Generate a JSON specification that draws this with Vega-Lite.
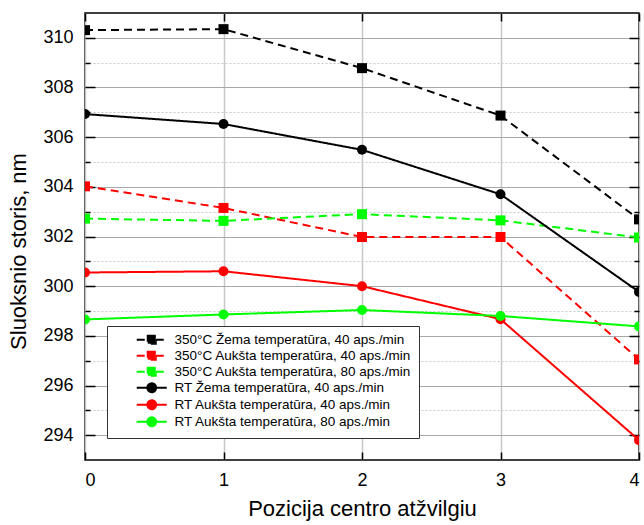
{
  "$schema": "https://vega.github.io/schema/vega-lite/v6.json",
  "width": 554,
  "height": 447,
  "autosize": "none",
  "padding": {"left": 85, "top": 13, "right": 5, "bottom": 65},
  "background": "white",
  "config": {
    "font": "Liberation Sans",
    "view": {"stroke": "#000000", "strokeWidth": 1.5},
    "axis": {"domain": false, "labelColor": "#000", "titleColor": "#000", "tickColor": "#000", "titleFontWeight": "normal", "labelFont": "Liberation Sans", "titleFont": "Liberation Sans"}
  },
  "data": {"values": [
    {"series": "350°C Žema temperatūra, 40 aps./min", "x": 0, "y": 310.31},
    {"series": "350°C Žema temperatūra, 40 aps./min", "x": 1, "y": 310.35},
    {"series": "350°C Žema temperatūra, 40 aps./min", "x": 2, "y": 308.78},
    {"series": "350°C Žema temperatūra, 40 aps./min", "x": 3, "y": 306.87},
    {"series": "350°C Žema temperatūra, 40 aps./min", "x": 4, "y": 302.69},
    {"series": "350°C Aukšta temperatūra, 40 aps./min", "x": 0, "y": 304.02},
    {"series": "350°C Aukšta temperatūra, 40 aps./min", "x": 1, "y": 303.15},
    {"series": "350°C Aukšta temperatūra, 40 aps./min", "x": 2, "y": 301.98},
    {"series": "350°C Aukšta temperatūra, 40 aps./min", "x": 3, "y": 301.98},
    {"series": "350°C Aukšta temperatūra, 40 aps./min", "x": 4, "y": 297.05},
    {"series": "350°C Aukšta temperatūra, 80 aps./min", "x": 0, "y": 302.72},
    {"series": "350°C Aukšta temperatūra, 80 aps./min", "x": 1, "y": 302.63},
    {"series": "350°C Aukšta temperatūra, 80 aps./min", "x": 2, "y": 302.9},
    {"series": "350°C Aukšta temperatūra, 80 aps./min", "x": 3, "y": 302.65},
    {"series": "350°C Aukšta temperatūra, 80 aps./min", "x": 4, "y": 301.96},
    {"series": "RT Žema temperatūra, 40 aps./min", "x": 0, "y": 306.93},
    {"series": "RT Žema temperatūra, 40 aps./min", "x": 1, "y": 306.53},
    {"series": "RT Žema temperatūra, 40 aps./min", "x": 2, "y": 305.49},
    {"series": "RT Žema temperatūra, 40 aps./min", "x": 3, "y": 303.7},
    {"series": "RT Žema temperatūra, 40 aps./min", "x": 4, "y": 299.77},
    {"series": "RT Aukšta temperatūra, 40 aps./min", "x": 0, "y": 300.55},
    {"series": "RT Aukšta temperatūra, 40 aps./min", "x": 1, "y": 300.6},
    {"series": "RT Aukšta temperatūra, 40 aps./min", "x": 2, "y": 300.0},
    {"series": "RT Aukšta temperatūra, 40 aps./min", "x": 3, "y": 298.67},
    {"series": "RT Aukšta temperatūra, 40 aps./min", "x": 4, "y": 293.8},
    {"series": "RT Aukšta temperatūra, 80 aps./min", "x": 0, "y": 298.66},
    {"series": "RT Aukšta temperatūra, 80 aps./min", "x": 1, "y": 298.86},
    {"series": "RT Aukšta temperatūra, 80 aps./min", "x": 2, "y": 299.04},
    {"series": "RT Aukšta temperatūra, 80 aps./min", "x": 3, "y": 298.8},
    {"series": "RT Aukšta temperatūra, 80 aps./min", "x": 4, "y": 298.38}
  ]},
  "layer": [
    {
      "mark": {"type": "line", "strokeWidth": 2, "clip": true},
      "encoding": {
        "x": {"field": "x", "type": "quantitative", "scale": {"domain": [0, 4], "nice": false, "zero": false},
          "axis": {"orient": "bottom", "values": [0, 1, 2, 3, 4], "format": "d", "grid": true, "gridColor": "#c8c8c8", "gridWidth": 1.5, "ticks": false, "labelFontSize": 18, "labelPadding": 11, "title": "Pozicija centro atžvilgiu", "titleFontSize": 22, "titlePadding": 9}},
        "y": {"field": "y", "type": "quantitative", "scale": {"domain": [293, 311], "nice": false, "zero": false},
          "axis": {"orient": "left", "values": [294, 295, 296, 297, 298, 299, 300, 301, 302, 303, 304, 305, 306, 307, 308, 309, 310], "labelExpr": "datum.value % 2 == 0 ? datum.label : ''", "grid": true,
            "gridColor": {"condition": {"test": "datum.value % 2 == 0", "value": "#a8a8a8"}, "value": "#c8c8c8"},
            "gridDash": {"condition": {"test": "datum.value % 2 == 0", "value": []}, "value": [2, 2]},
            "ticks": false, "labelFontSize": 18, "labelPadding": 12, "title": "Sluoksnio storis, nm", "titleFontSize": 22, "titlePadding": 12, "titleY": 238}},
        "color": {"field": "series", "type": "nominal",
          "scale": {"domain": ["350°C Žema temperatūra, 40 aps./min", "350°C Aukšta temperatūra, 40 aps./min", "350°C Aukšta temperatūra, 80 aps./min", "RT Žema temperatūra, 40 aps./min", "RT Aukšta temperatūra, 40 aps./min", "RT Aukšta temperatūra, 80 aps./min"],
            "range": ["#000000", "#ff0000", "#00ff00", "#000000", "#ff0000", "#00ff00"]},
          "legend": {"title": null, "orient": "bottom-left", "offset": 22, "zindex": 1, "fillColor": "white", "strokeColor": "#333", "padding": 7,
            "labelFontSize": 13.5, "labelFont": "Liberation Sans", "labelColor": "#000", "labelLimit": 400, "symbolSize": 64, "symbolOffset": 31, "labelOffset": 16, "rowPadding": -1, "symbolOpacity": 1, "symbolStrokeWidth": 2, "symbolDash": [1, 0],
            "labelExpr": "datum.label + '\u00a0\u00a0\u00a0\u00a0\u00a0\u00a0\u00a0\u00a0\u00a0\u00a0\u00a0\u00a0\u00a0\u00a0\u00a0\u00a0'",
            "encode": {"symbols": {"update": {
              "shape": {"signal": "indexof(datum.value, 'RT') == 0 ? 'M-3.75,0H-1.1M1.1,0H3.75M-1.1,0A1.1,1.1 0 1,0 1.1,0A1.1,1.1 0 1,0 -1.1,0Z' : 'M-3.75,0H-1M1,0H3.75M-1,-1H1V1H-1Z'"},
              "stroke": {"signal": "scale('color', datum.value)"},
              "fill": {"signal": "scale('color', datum.value)"},
              "strokeDash": {"value": [1, 0]},
              "strokeWidth": {"value": 2}
            }}}}},
        "strokeDash": {"field": "series", "type": "nominal", "legend": null,
          "scale": {"domain": ["350°C Žema temperatūra, 40 aps./min", "350°C Aukšta temperatūra, 40 aps./min", "350°C Aukšta temperatūra, 80 aps./min", "RT Žema temperatūra, 40 aps./min", "RT Aukšta temperatūra, 40 aps./min", "RT Aukšta temperatūra, 80 aps./min"],
            "range": [[8, 5], [8, 5], [8, 5], [1, 0], [1, 0], [1, 0]]}}
      }
    },
    {
      "transform": [{"filter": "indexof(datum.series, '350') == 0"}],
      "mark": {"type": "point", "filled": true, "opacity": 1, "size": 100, "shape": "square", "clip": true},
      "encoding": {
        "x": {"field": "x", "type": "quantitative",
          "axis": {"orient": "top", "offset": -447, "values": [0, 1, 2, 3, 4], "labels": false, "grid": false, "tickSize": 8, "tickWidth": 1.5, "title": null}},
        "y": {"field": "y", "type": "quantitative",
          "axis": {"orient": "right", "offset": -554, "values": [294, 295, 296, 297, 298, 299, 300, 301, 302, 303, 304, 305, 306, 307, 308, 309, 310], "labels": false, "grid": false,
            "tickSize": {"condition": {"test": "datum.value % 2 == 0", "value": 10}, "value": 5}, "tickWidth": 1.5, "title": null}},
        "color": {"field": "series", "type": "nominal", "legend": null}
      }
    },
    {
      "transform": [{"filter": "indexof(datum.series, 'RT') == 0"}],
      "mark": {"type": "point", "filled": true, "opacity": 1, "size": 100, "shape": "circle", "clip": true},
      "encoding": {
        "x": {"field": "x", "type": "quantitative",
          "axis": {"orient": "bottom", "offset": -447, "values": [0, 1, 2, 3, 4], "labels": false, "grid": false, "tickSize": 8, "tickWidth": 1.5, "title": null}},
        "y": {"field": "y", "type": "quantitative",
          "axis": {"orient": "left", "offset": -554, "values": [294, 295, 296, 297, 298, 299, 300, 301, 302, 303, 304, 305, 306, 307, 308, 309, 310], "labels": false, "grid": false,
            "tickSize": {"condition": {"test": "datum.value % 2 == 0", "value": 10}, "value": 5}, "tickWidth": 1.5, "title": null}},
        "color": {"field": "series", "type": "nominal", "legend": null}
      }
    }
  ],
  "resolve": {"axis": {"x": "independent", "y": "independent"}}
}
